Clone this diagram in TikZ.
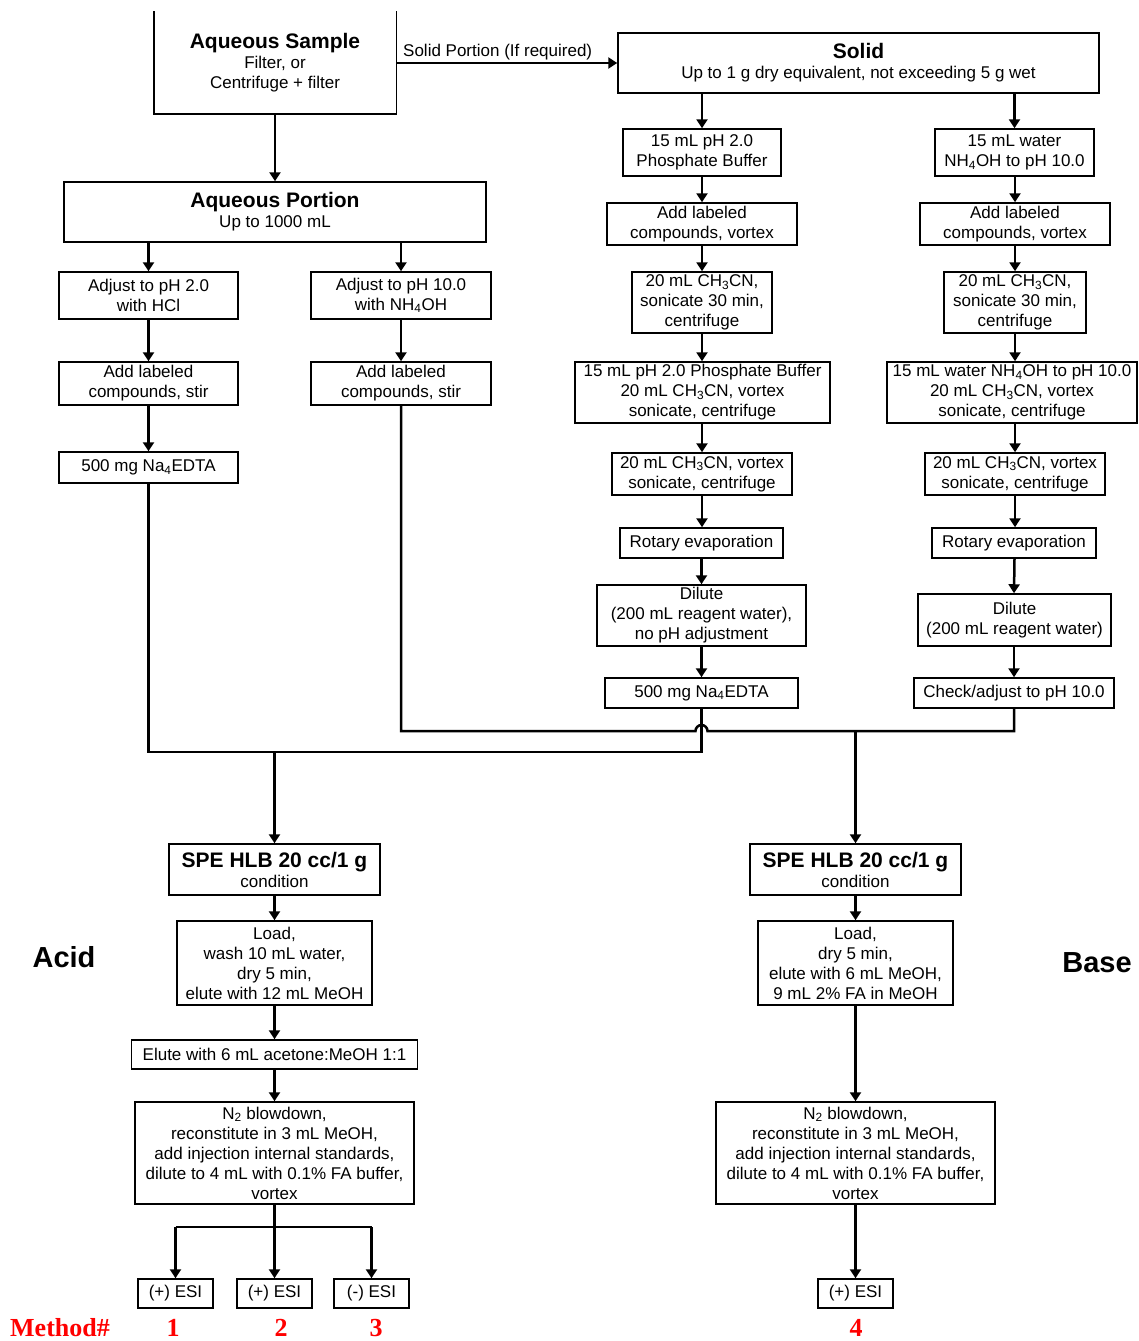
\documentclass[tikz,border=0pt]{standalone}
\usepackage{fontspec}
\setmainfont{Liberation Sans}
\newfontfamily\methodfont{Liberation Serif}
\usetikzlibrary{arrows.meta}
\newcommand{\hdrtext}[1]{{\fontsize{21}{23}\selectfont\bfseries #1}}
\begin{document}
\begin{tikzpicture}[x=1pt,y=-1pt,
  box/.style={draw, line width=1.5pt, align=center, inner sep=0pt, font=\fontsize{17}{20}\selectfont},
  conn/.style={line width=2.5pt},
  arr/.style={conn, -{Triangle[width=11pt,length=9pt]}},
  side/.style={font=\fontsize{29}{31}\selectfont\bfseries},
  meth/.style={text=red, font=\fontsize{26}{28}\selectfont\methodfont\bfseries}]
\useasboundingbox (0,0) rectangle (1138,1341);

% ---- top ----
\node[box, draw=none, minimum width=241pt, minimum height=101pt] (as) at (275,62.5)
  {\hdrtext{Aqueous Sample}\\Filter, or\\Centrifuge + filter};
\draw[line width=1.5pt] (as.north west) -- (as.south west) -- (as.south east) -- (as.north east);

\node[box, minimum width=481pt, minimum height=60pt] (solid) at (858.5,63)
  {\hdrtext{Solid}\\Up to 1 g dry equivalent, not exceeding 5 g wet};

\node[box, minimum width=422pt, minimum height=60pt] (ap) at (275,212)
  {\hdrtext{Aqueous Portion}\\Up to 1000 mL};

% ---- solid acid column ----
\node[box, minimum width=158pt, minimum height=47pt] (pb1) at (702,152.5) {15 mL pH 2.0\\Phosphate Buffer};
\node[box, minimum width=190pt, minimum height=42pt] (alc1) at (702,224) {Add labeled\\compounds, vortex};
\node[box, minimum width=140pt, minimum height=61pt] (ch1) at (702,302.5) {20 mL CH\textsubscript{3}CN,\\sonicate 30 min,\\centrifuge};
\node[box, minimum width=255pt, minimum height=61pt] (pbb1) at (702.5,392.5) {15 mL pH 2.0 Phosphate Buffer\\20 mL CH\textsubscript{3}CN, vortex\\sonicate, centrifuge};
\node[box, minimum width=180pt, minimum height=42pt] (cv1) at (702,474) {20 mL CH\textsubscript{3}CN, vortex\\sonicate, centrifuge};
\node[box, minimum width=163pt, minimum height=30pt] (re1) at (701.5,543) {Rotary evaporation};
\node[box, minimum width=209pt, minimum height=61pt] (dil1) at (701.5,615.5) {Dilute\\(200 mL reagent water),\\no pH adjustment};
\node[box, minimum width=193pt, minimum height=30pt] (edta2) at (701.5,693) {500 mg Na\textsubscript{4}EDTA};

% ---- solid base column ----
\node[box, minimum width=159pt, minimum height=47pt] (wb1) at (1014.5,152.5) {15 mL water\\NH\textsubscript{4}OH to pH 10.0};
\node[box, minimum width=190pt, minimum height=42pt] (alc2) at (1015,224) {Add labeled\\compounds, vortex};
\node[box, minimum width=142pt, minimum height=61pt] (ch2) at (1015,302.5) {20 mL CH\textsubscript{3}CN,\\sonicate 30 min,\\centrifuge};
\node[box, minimum width=250pt, minimum height=61pt] (pbb2) at (1012,392.5) {15 mL water NH\textsubscript{4}OH to pH 10.0\\20 mL CH\textsubscript{3}CN, vortex\\sonicate, centrifuge};
\node[box, minimum width=180pt, minimum height=42pt] (cv2) at (1015,474) {20 mL CH\textsubscript{3}CN, vortex\\sonicate, centrifuge};
\node[box, minimum width=164pt, minimum height=30pt] (re2) at (1014,543) {Rotary evaporation};
\node[box, minimum width=193pt, minimum height=52pt] (dil2) at (1014.5,620) {Dilute\\(200 mL reagent water)};
\node[box, minimum width=200pt, minimum height=30pt] (chk) at (1014,693) {Check/adjust to pH 10.0};

% ---- aqueous columns ----
\node[box, minimum width=179pt, minimum height=47pt] (adj1) at (148.5,295.5) {Adjust to pH 2.0\\with HCl};
\node[box, minimum width=180pt, minimum height=47pt] (adj2) at (401,295.5) {Adjust to pH 10.0\\with NH\textsubscript{4}OH};
\node[box, minimum width=179pt, minimum height=43pt] (alcs1) at (148.5,383.5) {Add labeled\\compounds, stir};
\node[box, minimum width=180pt, minimum height=43pt] (alcs2) at (401,383.5) {Add labeled\\compounds, stir};
\node[box, minimum width=179pt, minimum height=31pt] (edta1) at (148.5,467.5) {500 mg Na\textsubscript{4}EDTA};

% ---- SPE ----
\node[box, minimum width=211pt, minimum height=51pt] (spe1) at (274.5,869.5) {\hdrtext{SPE HLB 20 cc/1 g}\\condition};
\node[box, minimum width=211pt, minimum height=51pt] (spe2) at (855.5,869.5) {\hdrtext{SPE HLB 20 cc/1 g}\\condition};
\node[box, minimum width=195pt, minimum height=84pt] (load1) at (274.5,963) {Load,\\wash 10 mL water,\\dry 5 min,\\elute with 12 mL MeOH};
\node[box, minimum width=195pt, minimum height=84pt] (load2) at (855.5,963) {Load,\\dry 5 min,\\elute with 6 mL MeOH,\\9 mL 2\% FA in MeOH};
\node[box, minimum width=286pt, minimum height=29pt] (elu) at (274.5,1054.5) {Elute with 6 mL acetone:MeOH 1:1};
\node[box, minimum width=279pt, minimum height=102pt] (n2a) at (274.5,1153) {N\textsubscript{2} blowdown,\\reconstitute in 3 mL MeOH,\\add injection internal standards,\\dilute to 4 mL with 0.1\% FA buffer,\\vortex};
\node[box, minimum width=279pt, minimum height=102pt] (n2b) at (855.5,1153) {N\textsubscript{2} blowdown,\\reconstitute in 3 mL MeOH,\\add injection internal standards,\\dilute to 4 mL with 0.1\% FA buffer,\\vortex};
\node[box, minimum width=75pt, minimum height=29pt] (esi1) at (175.5,1293.5) {(+) ESI};
\node[box, minimum width=75pt, minimum height=29pt] (esi2) at (274.5,1293.5) {(+) ESI};
\node[box, minimum width=75pt, minimum height=29pt] (esi3) at (371.5,1293.5) {(-) ESI};
\node[box, minimum width=75pt, minimum height=29pt] (esi4) at (855.5,1293.5) {(+) ESI};

% ---- side labels ----
\node[side] (acid) at (64,957) {Acid};
\node[side] (base) at (1097,963) {Base};
\node[meth] (mth) at (60,1328) {Method\#};
\node[meth] (m1) at (173,1328) {1};
\node[meth] (m2) at (281,1328) {2};
\node[meth] (m3) at (376,1328) {3};
\node[meth] (m4) at (856,1328) {4};

% ---- connectors ----
\draw[arr] (as.south) -- (ap.north);
\draw[arr] (as.east |- solid.west) -- (solid.west);
\node[font=\fontsize{17}{20}\selectfont, anchor=west, inner sep=0pt] (sp) at (403,52) {Solid Portion (If required)};
\draw[arr] (pb1.north |- solid.south) -- (pb1.north);
\draw[arr] (wb1.north |- solid.south) -- (wb1.north);
\draw[arr] (pb1) -- (alc1);
\draw[arr] (alc1) -- (ch1);
\draw[arr] (ch1) -- (pbb1.north -| ch1);
\draw[arr] (pbb1.south -| cv1) -- (cv1);
\draw[arr] (cv1) -- (re1.north -| cv1);
\draw[arr] (re1.south -| dil1) -- (dil1);
\draw[arr] (dil1) -- (edta2);
\draw[arr] (wb1.south -| alc2) -- (alc2);
\draw[arr] (alc2) -- (ch2);
\draw[arr] (ch2) -- (pbb2.north -| ch2);
\draw[arr] (pbb2.south -| cv2) -- (cv2);
\draw[arr] (cv2) -- (re2.north -| cv2);
\draw[arr] (re2.south -| dil2) -- (dil2.north -| re2.south);
\draw[arr] (dil2.south -| chk) -- (chk);
\draw[arr] (adj1.north |- ap.south) -- (adj1.north);
\draw[arr] (adj2.north |- ap.south) -- (adj2.north);
\draw[arr] (adj1) -- (alcs1);
\draw[arr] (adj2) -- (alcs2);
\draw[arr] (alcs1) -- (edta1);

% acid merge
\coordinate (ja) at (274.5,752);
\coordinate (jb) at (855.5,731);
\draw[conn] (edta1.south) |- (ja) -| (edta2.south);
\draw[arr] (spe1.north |- ja) -- (spe1.north);
% base merge with hop over the acid line
\draw[conn] (alcs2.south) |- (695.5,731) arc[start angle=180, end angle=360, radius=6] -- (chk.south |- jb) -- (chk.south);
\draw[arr] (spe2.north |- jb) -- (spe2.north);

\draw[arr] (spe1) -- (load1);
\draw[arr] (load1) -- (elu.north -| load1);
\draw[arr] (elu.south -| n2a) -- (n2a);
\draw[arr] (spe2) -- (load2);
\draw[arr] (load2) -- (n2b);
\draw[arr] (n2b) -- (esi4);

\coordinate (js) at (274.5,1227);
\draw[conn] (n2a.south) -- (js);
\draw[conn] (esi1.north |- js) -- (esi3.north |- js);
\draw[arr] (esi1.north |- js) -- (esi1.north);
\draw[arr] (esi2.north |- js) -- (esi2.north);
\draw[arr] (esi3.north |- js) -- (esi3.north);
\end{tikzpicture}
\end{document}
